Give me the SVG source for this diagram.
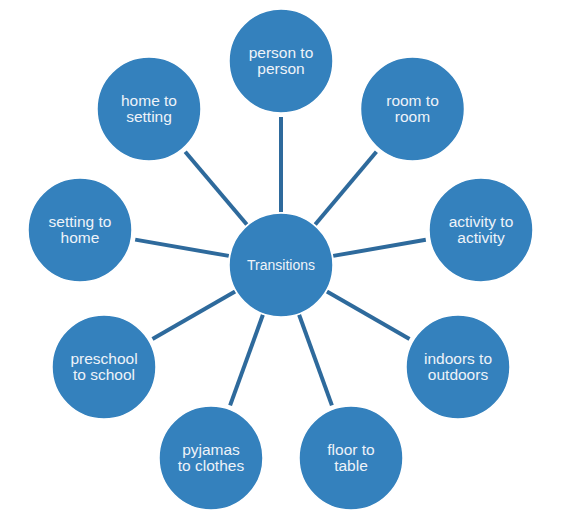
<svg xmlns="http://www.w3.org/2000/svg" width="568" height="525" viewBox="0 0 568 525">
<style>
.n{fill:#3481BD;stroke:#FFFFFF;stroke-width:1.5}
.t{font-family:"Liberation Sans",Arial,sans-serif;font-size:15.5px;fill:#EEF3F9;text-anchor:middle}
.c{font-size:14px}
.l{stroke:#2E6A9C;stroke-width:4;fill:none}
</style>
<rect width="568" height="525" fill="#FFFFFF"/>
<g id="connectors">
<line class="l" x1="281" y1="117" x2="281" y2="212"/>
<line class="l" x1="376.4" y1="151.8" x2="315.2" y2="224.5"/>
<line class="l" x1="425.8" y1="239.7" x2="333.2" y2="255.9"/>
<line class="l" x1="409.5" y1="339" x2="326.9" y2="291.5"/>
<line class="l" x1="331.9" y1="405.4" x2="299.1" y2="314.8"/>
<line class="l" x1="230.1" y1="405.4" x2="262.9" y2="314.8"/>
<line class="l" x1="152.5" y1="339" x2="235.1" y2="291.5"/>
<line class="l" x1="135.2" y1="239.6" x2="228.8" y2="255.9"/>
<line class="l" x1="185.2" y1="151.7" x2="246.8" y2="224.5"/>
</g>
<g id="transitions">
<circle class="n" cx="281" cy="265" r="52"/>
<text class="t c" x="281" y="270">Transitions</text>
</g>
<g id="person">
<circle class="n" cx="281" cy="61" r="52"/>
<text class="t" x="281" y="58">person to</text>
<text class="t" x="281" y="74">person</text>
</g>
<g id="room">
<circle class="n" cx="412.5" cy="109" r="52"/>
<text class="t" x="412.5" y="106">room to</text>
<text class="t" x="412.5" y="122">room</text>
</g>
<g id="activity">
<circle class="n" cx="481" cy="230" r="52"/>
<text class="t" x="481" y="227">activity to</text>
<text class="t" x="481" y="243">activity</text>
</g>
<g id="indoors">
<circle class="n" cx="458" cy="367" r="52"/>
<text class="t" x="458" y="364">indoors to</text>
<text class="t" x="458" y="380">outdoors</text>
</g>
<g id="floor">
<circle class="n" cx="351" cy="458" r="52"/>
<text class="t" x="351" y="455">floor to</text>
<text class="t" x="351" y="471">table</text>
</g>
<g id="pyjamas">
<circle class="n" cx="211" cy="458" r="52"/>
<text class="t" x="211" y="455">pyjamas</text>
<text class="t" x="211" y="471">to clothes</text>
</g>
<g id="preschool">
<circle class="n" cx="104" cy="367" r="52"/>
<text class="t" x="104" y="364">preschool</text>
<text class="t" x="104" y="380">to school</text>
</g>
<g id="setting-home">
<circle class="n" cx="80" cy="230" r="52"/>
<text class="t" x="80" y="227">setting to</text>
<text class="t" x="80" y="243">home</text>
</g>
<g id="home-setting">
<circle class="n" cx="149" cy="109" r="52"/>
<text class="t" x="149" y="106">home to</text>
<text class="t" x="149" y="122">setting</text>
</g>
</svg>
